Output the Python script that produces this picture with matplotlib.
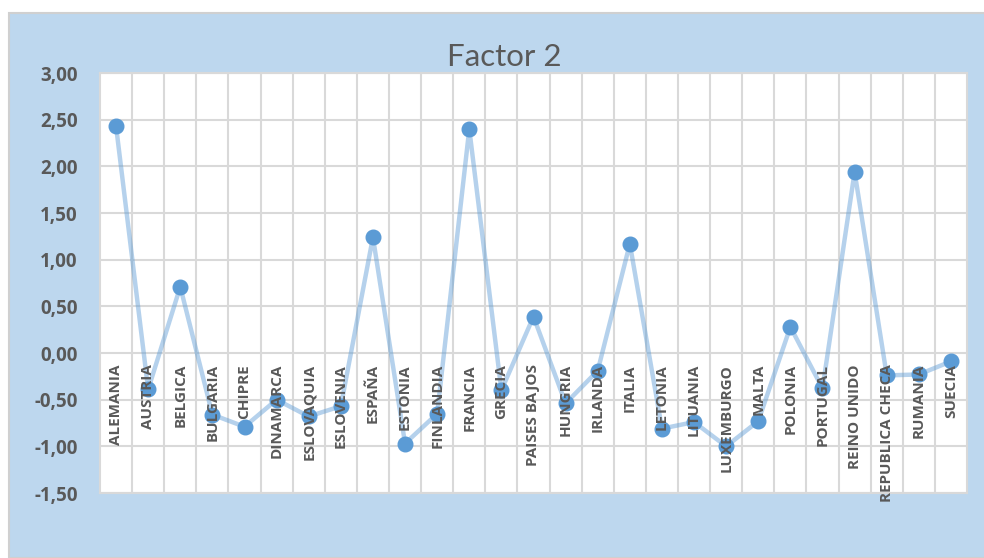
import matplotlib
matplotlib.use("Agg")
import matplotlib.pyplot as plt
from matplotlib.patches import Rectangle
from matplotlib.ticker import FixedLocator, FuncFormatter

countries = [
    "ALEMANIA", "AUSTRIA", "BELGICA", "BULGARIA", "CHIPRE", "DINAMARCA",
    "ESLOVAQUIA", "ESLOVENIA", "ESPAÑA", "ESTONIA", "FINLANDIA", "FRANCIA",
    "GRECIA", "PAISES BAJOS", "HUNGRIA", "IRLANDA", "ITALIA", "LETONIA",
    "LITUANIA", "LUXEMBURGO", "MALTA", "POLONIA", "PORTUGAL", "REINO UNIDO",
    "REPUBLICA CHECA", "RUMANIA", "SUECIA",
]
factor2 = [
    2.43, -0.39, 0.71, -0.66, -0.79, -0.50,
    -0.68, -0.57, 1.24, -0.97, -0.65, 2.40,
    -0.40, 0.39, -0.54, -0.19, 1.17, -0.81,
    -0.74, -1.00, -0.73, 0.28, -0.38, 1.94,
    -0.24, -0.23, -0.09,
]
y_ticks = [-1.5, -1.0, -0.5, 0.0, 0.5, 1.0, 1.5, 2.0, 2.5, 3.0]
title = "Factor 2"

W, H = 984, 558
fig = plt.figure(figsize=(W / 100, H / 100), dpi=100)
fig.patch.set_facecolor("white")

# light blue chart area with thin grey frame
fig.add_artist(Rectangle((9 / W, 0), 1 - 9 / W + 0.01, 1 - 13 / H,
                         transform=fig.transFigure, facecolor="#BDD7EE",
                         edgecolor="#D0D0D0", linewidth=1.5, zorder=0))

left, right, top, bottom = 100, 967, 73, 493
ax = fig.add_axes([left / W, 1 - bottom / H, (right - left) / W, (bottom - top) / H])
ax.set_facecolor("white")
ax.set_zorder(1)

x = list(range(len(countries)))
ax.plot(x, factor2, color="#5B9BD5", alpha=0.45, linewidth=3.2,
        solid_capstyle="round", zorder=3)
ax.plot(x, factor2, linestyle="none", marker="o", markersize=10.5,
        markerfacecolor="#5B9BD5", markeredgecolor="#5B9BD5", zorder=4)

ax.set_xlim(-0.5, len(countries) - 0.5)
ax.set_ylim(y_ticks[0], y_ticks[-1])

ax.yaxis.set_major_locator(FixedLocator(y_ticks))
ax.yaxis.set_major_formatter(FuncFormatter(lambda v, p: f"{v:.2f}".replace(".", ",")))
ax.xaxis.set_major_locator(FixedLocator([i + 0.5 for i in x[:-1]]))
ax.set_xticklabels([])
ax.grid(True, color="#D9D9D9", linewidth=1.5, zorder=1)
ax.set_axisbelow(True)
ax.tick_params(axis="both", length=0)
ax.tick_params(axis="y", pad=16, labelsize=13.5, labelcolor="#595959")
for lbl in ax.get_yticklabels():
    lbl.set_fontfamily("Open Sans")
    lbl.set_fontweight("bold")
for s in ax.spines.values():
    s.set_color("#D9D9D9")
    s.set_linewidth(1.5)

# category names hang from the zero line
for i, name in enumerate(countries):
    ax.annotate(name, xy=(i, 0), xytext=(0, -8), textcoords="offset points",
                rotation=90, ha="center", va="top", fontsize=11,
                fontfamily="Open Sans", fontweight="bold", color="#595959",
                zorder=6, annotation_clip=False)

fig.text(504 / W, 1 - 57 / H, title, ha="center", va="center",
         fontsize=22.5, fontfamily="Lato", color="#595959")

fig.savefig("out.png", dpi=100, facecolor=fig.get_facecolor())
